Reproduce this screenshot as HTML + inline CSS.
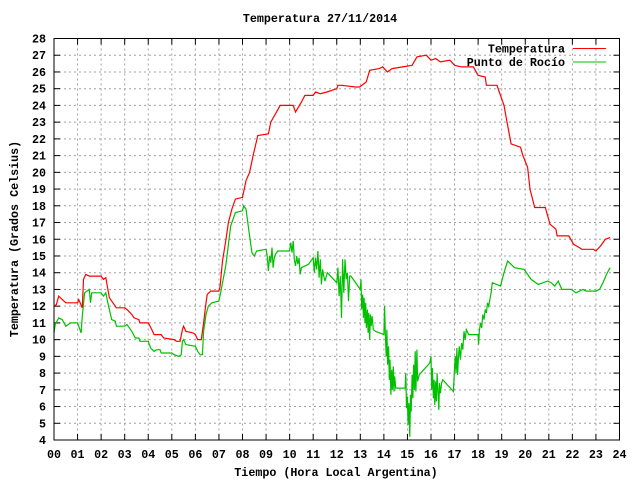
<!DOCTYPE html>
<html><head><meta charset="utf-8"><style>
html,body{margin:0;padding:0;background:#fff;}
svg text{font-family:"Liberation Mono",monospace;font-weight:bold;font-size:11.7px;fill:#000;}
</style></head><body>
<svg id="chart" width="640" height="480" viewBox="0 0 640 480" xmlns="http://www.w3.org/2000/svg">
<rect x="0" y="0" width="640" height="480" fill="#fff"/>
<g id="grid"></g>
<g id="ticks"></g>
<g id="series"></g>
<rect x="54" y="38.5" width="565.5" height="401.5" fill="none" stroke="#000" stroke-width="1"/>
<text x="320" y="22" text-anchor="middle">Temperatura 27/11/2014</text>
<text x="336" y="476" text-anchor="middle">Tiempo (Hora Local Argentina)</text>
<text transform="translate(18,239) rotate(-90)" text-anchor="middle">Temperatura (Grados Celsius)</text>
<g>
<text x="565" y="52.5" text-anchor="end">Temperatura</text>
<line x1="573" y1="48.5" x2="606" y2="48.5" stroke="#ff0000" stroke-width="1"/>
<text x="565" y="66" text-anchor="end">Punto de Rocío</text>
<line x1="573" y1="62" x2="606" y2="62" stroke="#00c000" stroke-width="1"/>
</g>
</svg>
<script>
const xTickLabels = ["00","01","02","03","04","05","06","07","08","09","10","11","12","13","14","15","16","17","18","19","20","21","22","23","24"];
const yTickLabels = [4,5,6,7,8,9,10,11,12,13,14,15,16,17,18,19,20,21,22,23,24,25,26,27,28];
const tempHours = [0,0.1,0.2,0.35,0.5,0.6,1.0,1.05,1.2,1.25,1.35,1.5,2.0,2.1,2.2,2.35,2.5,2.65,3.0,3.1,3.3,3.4,3.6,3.65,4.0,4.15,4.25,4.55,4.65,5.1,5.2,5.35,5.45,5.5,5.6,5.9,6.0,6.1,6.25,6.35,6.45,6.5,6.65,7.0,7.05,7.15,7.3,7.4,7.55,7.7,8.0,8.15,8.3,8.45,8.65,9.1,9.2,9.4,9.6,10.0,10.15,10.25,10.5,10.65,11.0,11.1,11.3,11.58,12.0,12.05,12.2,12.8,12.97,13.25,13.4,13.8,13.95,14.15,14.35,14.8,15.2,15.4,15.8,16.0,16.2,16.4,16.8,17.0,17.3,17.8,18.0,18.3,18.35,18.8,18.9,19.1,19.2,19.4,19.8,19.9,20.1,20.2,20.4,20.85,21.05,21.3,21.35,21.85,22.05,22.3,22.4,22.9,23.0,23.2,23.4,23.6];
const tempValues = [12.0,12.1,12.6,12.4,12.2,12.2,12.2,12.4,11.9,13.6,13.9,13.8,13.8,13.6,13.7,12.5,12.2,11.9,11.9,11.8,11.5,11.3,11.2,11.0,11.0,10.6,10.3,10.3,10.1,10.0,9.9,9.9,10.6,10.8,10.5,10.4,10.3,10.0,10.0,11.0,12.2,12.7,12.9,12.9,13.2,14.7,16.0,17.0,17.8,18.4,18.5,19.5,20.0,21.0,22.2,22.3,23.0,23.5,24.0,24.0,24.0,23.6,24.2,24.6,24.6,24.8,24.7,24.8,25.0,25.2,25.2,25.1,25.1,25.4,26.1,26.2,26.3,26.0,26.2,26.3,26.4,26.9,27.0,26.7,26.8,26.6,26.7,26.4,26.3,26.3,25.8,25.7,25.2,25.2,24.8,24.0,23.2,21.7,21.5,21.0,20.3,19.0,17.9,17.9,16.9,16.6,16.2,16.2,15.7,15.5,15.4,15.4,15.3,15.6,16.0,16.1];
const dewHours = [0,0.05,0.2,0.35,0.5,0.6,0.7,1.0,1.15,1.2,1.3,1.4,1.5,1.55,1.6,2.0,2.1,2.2,2.3,2.45,2.6,2.65,3.0,3.1,3.3,3.45,3.6,3.65,4.0,4.1,4.25,4.35,4.5,4.55,5.0,5.1,5.3,5.4,5.45,5.5,5.6,6.0,6.1,6.2,6.3,6.35,6.45,6.55,6.7,7.0,7.1,7.3,7.4,7.5,7.7,8.0,8.05,8.15,8.3,8.4,8.5,8.6,9.0,9.05,9.1,9.15,9.2,9.25,9.3,9.35,9.4,9.5,10.0,10.05,10.1,10.15,10.2,10.25,10.3,10.35,10.4,10.45,10.5,10.8,11.0,11.05,11.1,11.15,11.2,11.25,11.3,11.35,11.4,11.45,11.5,11.6,12.0,12.05,12.1,12.15,12.2,12.25,12.3,12.35,12.4,12.45,12.5,12.55,12.6,13.0,13.03,13.06,13.1,13.13,13.16,13.2,13.23,13.26,13.3,13.33,13.36,13.4,13.43,13.46,13.5,13.55,13.65,14.0,14.03,14.06,14.1,14.13,14.16,14.2,14.23,14.26,14.3,14.33,14.36,14.4,14.43,14.46,14.5,14.9,14.93,14.96,15.0,15.03,15.06,15.1,15.13,15.16,15.2,15.23,15.26,15.3,15.33,15.36,15.4,15.43,15.5,15.95,16.0,16.03,16.06,16.1,16.13,16.16,16.2,16.23,16.26,16.3,16.33,16.36,16.4,16.45,16.5,16.95,17.0,17.03,17.06,17.1,17.13,17.16,17.2,17.25,17.3,17.35,17.4,17.45,17.5,17.6,18.0,18.02,18.05,18.1,18.15,18.2,18.25,18.3,18.35,18.4,18.45,18.55,18.6,18.95,19.1,19.25,19.4,19.55,19.95,20.1,20.25,20.55,20.95,21.1,21.25,21.4,21.55,21.95,22.15,22.45,22.6,23.0,23.15,23.3,23.45,23.6];
const dewValues = [10.4,10.9,11.3,11.2,10.8,10.9,11.0,11.0,10.4,11.4,12.8,12.9,13.0,12.2,12.8,12.8,12.6,12.8,12.1,11.2,11.1,10.8,10.8,10.9,10.5,10.1,10.1,9.9,9.9,9.5,9.3,9.4,9.4,9.2,9.2,9.1,9.0,9.1,9.9,10.0,9.7,9.6,9.3,9.1,9.1,10.5,11.5,12.0,12.2,12.3,13.0,14.5,15.7,16.8,17.6,17.7,18.0,17.8,16.2,15.2,15.0,15.3,15.4,15.0,14.1,15.0,14.6,15.5,14.3,14.9,15.1,15.3,15.3,15.8,15.2,15.9,14.8,14.4,15.0,14.5,14.9,13.9,14.3,14.5,14.9,14.0,14.9,14.2,15.3,13.7,14.8,13.3,14.2,13.8,13.5,14.0,13.4,14.3,12.6,13.8,11.3,14.8,12.8,14.8,13.6,14.0,12.3,13.8,13.8,13.0,13.6,11.8,12.7,11.3,12.5,11.0,12.2,10.7,11.8,10.4,11.6,10.0,11.5,10.8,11.4,10.6,10.5,10.3,12.0,10.4,9.0,10.6,8.5,9.6,7.6,8.8,6.7,8.2,7.0,8.4,6.9,7.8,7.1,7.1,8.0,5.9,6.6,4.9,6.2,4.2,6.7,5.7,7.9,6.5,8.5,7.0,9.3,6.9,9.4,7.5,7.9,8.6,9.0,7.0,8.3,6.5,7.6,6.1,7.5,6.3,8.0,6.8,5.8,7.4,6.8,7.4,7.6,6.9,8.4,9.0,8.0,9.5,7.9,8.8,9.6,8.8,9.8,9.4,10.5,10.0,10.6,10.3,10.3,9.7,10.5,11.0,10.7,11.5,11.2,11.8,11.6,12.2,12.0,12.8,13.4,13.2,14.0,14.7,14.5,14.3,14.2,13.9,13.6,13.3,13.5,13.4,13.2,13.5,13.0,13.0,12.8,13.0,12.9,12.9,13.0,13.4,13.9,14.3];

const X0 = 54, X1 = 619.5, Y0 = 440, Y1 = 38.5;
const xMin = 0, xMax = 24, yMin = 4, yMax = 28;
function xScale(h){ return X0 + (h - xMin) / (xMax - xMin) * (X1 - X0); }
function yScale(v){ return Y0 - (v - yMin) / (yMax - yMin) * (Y0 - Y1); }
const NS = "http://www.w3.org/2000/svg";
const grid = document.getElementById('grid');
const ticks = document.getElementById('ticks');
const series = document.getElementById('series');
function mk(tag, attrs, parent){ const e = document.createElementNS(NS, tag); for (const k in attrs) e.setAttribute(k, attrs[k]); parent.appendChild(e); return e; }

xTickLabels.forEach(function(lbl, i){
  const x = xScale(i);
  if (i > 0 && i < xTickLabels.length - 1) {
    const g = mk('line', {x1:x, y1:Y1, x2:x, y2:Y0, stroke:'#a0a0a0', 'stroke-width':1, 'stroke-dasharray':'2,3'}, grid);
    
    
  }
  const t1 = mk('line', {x1:x, y1:Y0, x2:x, y2:Y0-6, stroke:'#000'}, ticks);
  
  
  const t2 = mk('line', {x1:x, y1:Y1, x2:x, y2:Y1+6, stroke:'#000'}, ticks);
  
  
  const tx = mk('text', {x:x, y:458, 'text-anchor':'middle'}, ticks);
  tx.textContent = lbl;
  
  
});
yTickLabels.forEach(function(v, i){
  const y = yScale(v);
  if (i > 0 && i < yTickLabels.length - 1) {
    const g = mk('line', {x1:X0, y1:y, x2:X1, y2:y, stroke:'#a0a0a0', 'stroke-width':1, 'stroke-dasharray':'2,3'}, grid);
    
    
  }
  const t1 = mk('line', {x1:X0, y1:y, x2:X0+6, y2:y, stroke:'#000'}, ticks);
  
  
  const t2 = mk('line', {x1:X1, y1:y, x2:X1-6, y2:y, stroke:'#000'}, ticks);
  
  
  const tx = mk('text', {x:46, y:y+4, 'text-anchor':'end'}, ticks);
  tx.textContent = String(v);
  
  
});
function pathFrom(hs, vs){ return hs.map(function(h, i){ return (i ? 'L' : 'M') + xScale(h).toFixed(1) + ',' + yScale(vs[i]).toFixed(1); }).join(''); }
const dewPath = mk('path', {d:pathFrom(dewHours, dewValues), fill:'none', stroke:'#00c000', 'stroke-width':1.2}, series);


const tempPath = mk('path', {d:pathFrom(tempHours, tempValues), fill:'none', stroke:'#ff0000', 'stroke-width':1.2}, series);


</script>
</body></html>
